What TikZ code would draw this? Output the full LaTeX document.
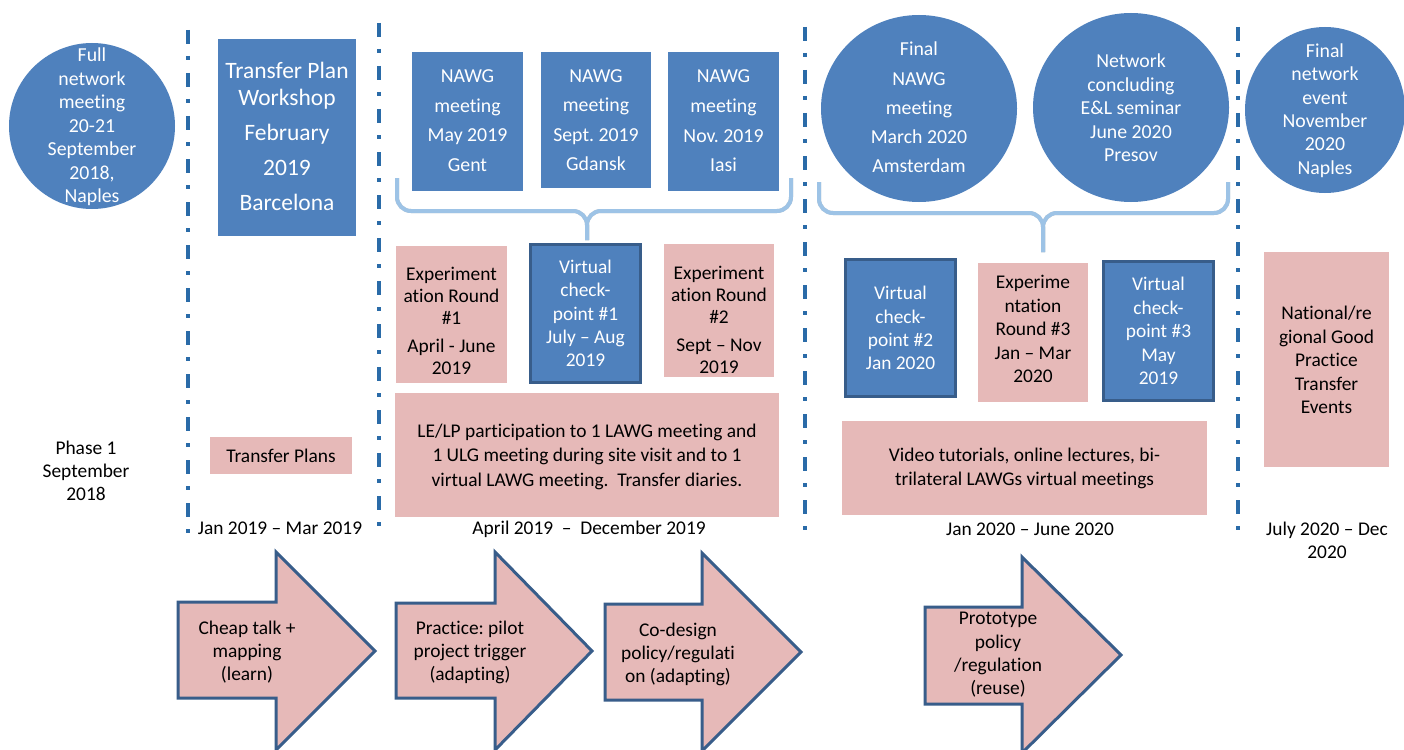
\documentclass[tikz,border=0pt]{standalone}
\usepackage{fontspec}
\setmainfont{Carlito}[Ligatures=NoCommon]
\usetikzlibrary{shapes.geometric}
\definecolor{boxblue}{HTML}{4F81BD}
\definecolor{boxpink}{HTML}{E6B9B8}
\definecolor{edgeblue}{HTML}{385D8A}
\definecolor{divblue}{HTML}{2A6BA8}
\definecolor{bracecol}{HTML}{9DC3E6}
\frenchspacing
\begin{document}
\begin{tikzpicture}[x=1pt,y=-1pt,
  bluefill/.style={fill=boxblue,inner sep=0pt},
  pinkfill/.style={fill=boxpink,inner sep=0pt},
  vcheck/.style={fill=boxblue,draw=edgeblue,line width=3pt,inner sep=0pt},
  wtxt/.style={text=white,align=center,inner sep=0pt,font=\fontsize{19.8}{23.5}\selectfont},
  btxt/.style={text=black,align=center,inner sep=0pt,font=\fontsize{19.8}{23.5}\selectfont},
  divider/.style={draw=divblue,line width=4pt,dash pattern=on 14pt off 12pt on 4pt off 13pt},
  bracemain/.style={draw=bracecol,line width=4pt,rounded corners=14pt},
  braceshadow/.style={draw=black!20,line width=4pt,rounded corners=14pt},
  arrowshape/.style={fill=boxpink,draw=edgeblue,line width=3pt,line join=miter},
]
\useasboundingbox (0,0) rectangle (1404,749);
\fill[white] (0,0) rectangle (1404,749);

% dividers
\draw[divider] (188,30) -- (188,535);
\draw[divider] (379,23) -- (379,527);
\draw[divider] (805,27) -- (805,530);
\draw[divider] (1238,27) -- (1238,530);

% circle 1
\node[circle,fill=boxblue,minimum size=166pt,inner sep=0pt] (c1) at (92,126) {};
\node[wtxt] (c1t) at (92,127) {Full\\network\\meeting\\20-21\\September\\2018,\\Naples};

% Transfer plan workshop
\node[bluefill,minimum width=138pt,minimum height=197pt] (tpw) at (287,137.5) {};
\node[wtxt,font=\fontsize{23.5}{27}\selectfont] (tpwt) at (287,136.5) {Transfer Plan\\Workshop\\[8pt]February\\[8pt]2019\\[8pt]Barcelona};

% NAWG boxes
\node[bluefill,minimum width=111pt,minimum height=139pt] (n1) at (467.5,121.5) {};
\node[bluefill,minimum width=110pt,minimum height=136pt] (n2) at (596,120) {};
\node[bluefill,minimum width=111pt,minimum height=139pt] (n3) at (723.5,121.5) {};
\node[wtxt,font=\fontsize{19.8}{29.7}\selectfont] (n1t) at (467.5,120.5) {NAWG\\meeting\\May 2019\\Gent};
\node[wtxt,font=\fontsize{19.8}{29.3}\selectfont] (n2t) at (596,120) {NAWG\\meeting\\Sept. 2019\\Gdansk};
\node[wtxt,font=\fontsize{19.8}{29.7}\selectfont] (n3t) at (723.5,121) {NAWG\\meeting\\Nov. 2019\\Iasi};

% right circles
\node[ellipse,fill=boxblue,minimum width=196pt,minimum height=187pt,inner sep=0pt] (fn) at (919,108.5) {};
\node[ellipse,fill=boxblue,minimum width=196pt,minimum height=189pt,inner sep=0pt] (nc) at (1131,107.5) {};
\node[ellipse,fill=boxblue,minimum width=160pt,minimum height=166pt,inner sep=0pt] (fe) at (1325,110) {};
\node[wtxt,font=\fontsize{19.8}{29.3}\selectfont] (fnt) at (919,107.5) {Final\\NAWG\\meeting\\March 2020\\Amsterdam};
\node[wtxt] (nct) at (1131,108) {Network\\concluding\\E\&L seminar\\June 2020\\Presov};
\node[wtxt,font=\fontsize{19.8}{23.4}\selectfont] (fet) at (1325,110.5) {Final\\network\\event\\November\\2020\\Naples};

% braces
\coordinate (b1l) at (397,178);
\coordinate (b1r) at (791,178);
\coordinate (b1m) at (587,211);
\coordinate (b1t) at (587,240);
\coordinate (b2l) at (819,182);
\coordinate (b2r) at (1228,182);
\coordinate (b2m) at (1043,213);
\coordinate (b2t) at (1043,252);
\begin{scope}[shift={(1.5,2.5)}]
\draw[braceshadow] (b1l) -- (b1l |- b1m) -- (b1m) -- (b1t);
\draw[braceshadow] (b1r) -- (b1r |- b1m) -- (b1m) -- (b1t);
\draw[braceshadow] (b2l) -- (b2l |- b2m) -- (b2m) -- (b2t);
\draw[braceshadow] (b2r) -- (b2r |- b2m) -- (b2m) -- (b2t);
\end{scope}
\draw[bracemain] (b1l) -- (b1l |- b1m) -- (b1m) -- (b1t);
\draw[bracemain] (b1r) -- (b1r |- b1m) -- (b1m) -- (b1t);
\draw[bracemain] (b2l) -- (b2l |- b2m) -- (b2m) -- (b2t);
\draw[bracemain] (b2r) -- (b2r |- b2m) -- (b2m) -- (b2t);

% middle row, period 2
\node[pinkfill,minimum width=111pt,minimum height=137pt] (e1) at (451.5,314.5) {};
\node[btxt,font=\fontsize{19.4}{22}\selectfont] (e1t) at (451.5,320.5) {Experiment\\ation Round\\\#1\\[6pt]April - June\\2019};
\node[vcheck,minimum width=110pt,minimum height=138pt] (v1) at (585.5,313.5) {};
\node[wtxt,font=\fontsize{19.4}{23.2}\selectfont] (v1t) at (585.5,313.5) {Virtual\\check-\\point \#1\\July -- Aug\\2019};
\node[pinkfill,minimum width=110pt,minimum height=133pt] (e2) at (719,310.5) {};
\node[btxt,font=\fontsize{19.4}{22}\selectfont] (e2t) at (719,320) {Experiment\\ation Round\\\#2\\[6pt]Sept -- Nov\\2019};
\node[pinkfill,minimum width=384pt,minimum height=124pt] (le) at (587,455) {};
\node[btxt,font=\fontsize{19.4}{24.5}\selectfont] (let) at (587,456.5) {LE/LP participation to 1 LAWG meeting and\\1 ULG meeting during site visit and to 1\\virtual LAWG meeting.\ \ Transfer diaries.};

% period 1
\node[pinkfill,minimum width=142pt,minimum height=37pt] (tp) at (281,455.5) {};
\node[btxt,font=\fontsize{19.4}{23}\selectfont] (tpt) at (281,456) {Transfer Plans};
\node[btxt,font=\fontsize{19.4}{23}\selectfont] (ph) at (86,471) {Phase 1\\September\\2018};

% period 3
\node[vcheck,minimum width=110pt,minimum height=137pt] (v2) at (900.5,328) {};
\node[wtxt,font=\fontsize{19.4}{23.3}\selectfont] (v2t) at (900.5,328) {Virtual\\check-\\point \#2\\Jan 2020};
\node[pinkfill,minimum width=110pt,minimum height=139pt] (e3) at (1033,332.5) {};
\node[btxt,font=\fontsize{19.4}{23.5}\selectfont] (e3t) at (1033,329) {Experime\\ntation\\Round \#3\\Jan -- Mar\\2020};
\node[vcheck,minimum width=110pt,minimum height=139pt] (v3) at (1158.5,331) {};
\node[wtxt,font=\fontsize{19.4}{23.5}\selectfont] (v3t) at (1158.5,331) {Virtual\\check-\\point \#3\\May\\2019};
\node[pinkfill,minimum width=365pt,minimum height=94pt] (vt) at (1024.5,468) {};
\node[btxt,font=\fontsize{19.4}{24}\selectfont] (vtt) at (1024.5,468) {Video tutorials, online lectures, bi-\\trilateral LAWGs virtual meetings};

% period 4
\node[pinkfill,minimum width=125pt,minimum height=215pt] (nr) at (1326.5,359.5) {};
\node[btxt,font=\fontsize{19.4}{23.5}\selectfont] (nrt) at (1326.5,360) {National/re\\gional Good\\Practice\\Transfer\\Events};

% dates
\node[btxt,font=\fontsize{19.4}{23}\selectfont] (d1) at (280,528) {Jan 2019 -- Mar 2019};
\node[btxt,font=\fontsize{19.4}{23}\selectfont] (d2) at (589,529) {April 2019 \ -- \ December 2019};
\node[btxt,font=\fontsize{19.4}{23}\selectfont] (d3) at (1030,529) {Jan 2020 -- June 2020};
\node[btxt,font=\fontsize{19.4}{23}\selectfont] (d4) at (1327,540.5) {July 2020 -- Dec\\2020};

% arrows
\draw[arrowshape] (178,602) -- (276,602) -- (276,552) -- (375,651) -- (276,750) -- (276,698) -- (178,698) -- cycle;
\draw[arrowshape] (396,603) -- (495,603) -- (495,552) -- (592,651) -- (495,750) -- (495,698) -- (396,698) -- cycle;
\draw[arrowshape] (605,604) -- (702,604) -- (702,553) -- (801,652) -- (702,751) -- (702,700) -- (605,700) -- cycle;
\draw[arrowshape] (925,607) -- (1022,607) -- (1022,557) -- (1121,655) -- (1022,753) -- (1022,704) -- (925,704) -- cycle;
\node[btxt,font=\fontsize{19.4}{23}\selectfont] (a1) at (247,652) {Cheap talk +\\mapping\\(learn)};
\node[btxt,font=\fontsize{19.4}{23}\selectfont] (a2) at (470,652) {Practice: pilot\\project trigger\\(adapting)};
\node[btxt,font=\fontsize{19.4}{23}\selectfont] (a3) at (678,654) {Co-design\\policy/regulati\\on (adapting)};
\node[btxt,font=\fontsize{19.4}{23.3}\selectfont] (a4) at (998,655) {Prototype\\policy\\/regulation\\(reuse)};
\end{tikzpicture}
\end{document}
